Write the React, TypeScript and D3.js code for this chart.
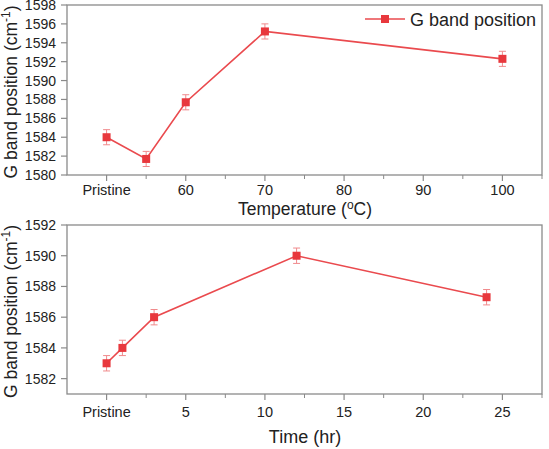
import React from "react";
import * as d3 from "d3";

const tempX = [50, 55, 60, 70, 100];
const tempY = [1584.0, 1581.7, 1587.7, 1595.2, 1592.3];
const tempErr = [0.8, 0.8, 0.8, 0.8, 0.8];
const tempTicks = [50, 60, 70, 80, 90, 100];
const tempMinor = [55, 65, 75, 85, 95, 105];
const tempYTicks = [1580, 1582, 1584, 1586, 1588, 1590, 1592, 1594, 1596, 1598];

const timeX = [0, 1, 3, 12, 24];
const timeY = [1583.0, 1584.0, 1586.0, 1590.0, 1587.3];
const timeErr = [0.5, 0.5, 0.5, 0.5, 0.5];
const timeTicks = [0, 5, 10, 15, 20, 25];
const timeMinor = [2.5, 7.5, 12.5, 17.5, 22.5, 27.5];
const timeYTicks = [1582, 1584, 1586, 1588, 1590, 1592];

const RED = "#e8383d";
const LINE = "#ea4a4e";
const AX = "#8a8a8a";
const FONT = "Liberation Sans, Arial, sans-serif";

type PanelProps = {
  top: number;
  bottom: number;
  xDomain: [number, number];
  yDomain: [number, number];
  xs: number[];
  ys: number[];
  errs: number[];
  xTicks: number[];
  xMinor: number[];
  yTicks: number[];
  firstLabel: string;
  xTitle: React.ReactNode;
  xTitleY: number;
  xTitleSize: number;
  tickLabelY: number;
  legend?: boolean;
};

const LEFT = 67;
const RIGHT = 542;

function Panel(p: PanelProps) {
  const x = d3.scaleLinear().domain(p.xDomain).range([LEFT, RIGHT]);
  const y = d3.scaleLinear().domain(p.yDomain).range([p.bottom, p.top]);
  const line = d3
    .line<number>()
    .x((_, i) => x(p.xs[i]))
    .y((d) => y(d));
  const midY = (p.top + p.bottom) / 2 + 2;
  return (
    <g>
      <rect
        x={LEFT}
        y={p.top}
        width={RIGHT - LEFT}
        height={p.bottom - p.top}
        fill="none"
        stroke={AX}
        strokeWidth={1.3}
      />
      {p.yTicks.map((t) => (
        <g key={"y" + t}>
          <line x1={LEFT - 6} x2={LEFT} y1={y(t)} y2={y(t)} stroke={AX} strokeWidth={1.2} />
          <text
            x={LEFT - 11}
            y={y(t)}
            dy="0.36em"
            textAnchor="end"
            fontSize={14}
            fill="#222"
            fontFamily={FONT}
          >
            {t}
          </text>
        </g>
      ))}
      {p.xTicks.map((t, i) => (
        <g key={"x" + t}>
          <line x1={x(t)} x2={x(t)} y1={p.bottom} y2={p.bottom + 6} stroke={AX} strokeWidth={1.2} />
          <text
            x={x(t)}
            y={p.tickLabelY}
            textAnchor="middle"
            fontSize={14.5}
            fill="#222"
            fontFamily={FONT}
          >
            {i === 0 ? p.firstLabel : t}
          </text>
        </g>
      ))}
      {p.xMinor.map((t) => (
        <line
          key={"m" + t}
          x1={x(t)}
          x2={x(t)}
          y1={p.bottom}
          y2={p.bottom + 4}
          stroke={AX}
          strokeWidth={1}
        />
      ))}
      <text
        transform={`translate(17,${midY}) rotate(-90)`}
        textAnchor="middle"
        fontSize={17.5}
        fill="#222"
        fontFamily={FONT}
      >
        G band position (cm
        <tspan fontSize={12} dy={-7}>
          -1
        </tspan>
        <tspan dy={7}>)</tspan>
      </text>
      <text
        x={305}
        y={p.xTitleY}
        textAnchor="middle"
        fontSize={p.xTitleSize}
        fill="#222"
        fontFamily={FONT}
      >
        {p.xTitle}
      </text>
      <path d={line(p.ys) || ""} fill="none" stroke={LINE} strokeWidth={1.6} />
      {p.ys.map((v, i) => {
        const cx = x(p.xs[i]);
        const e = p.errs[i];
        return (
          <g key={"p" + i}>
            <line x1={cx} x2={cx} y1={y(v - e)} y2={y(v + e)} stroke="#f08a8c" strokeWidth={1} />
            <line x1={cx - 3.5} x2={cx + 3.5} y1={y(v - e)} y2={y(v - e)} stroke="#f08a8c" strokeWidth={1} />
            <line x1={cx - 3.5} x2={cx + 3.5} y1={y(v + e)} y2={y(v + e)} stroke="#f08a8c" strokeWidth={1} />
            <rect x={cx - 4} y={y(v) - 4} width={8} height={8} fill={RED} />
          </g>
        );
      })}
      {p.legend && (
        <g>
          <line x1={365} x2={405} y1={19} y2={19} stroke={LINE} strokeWidth={1.6} />
          <rect x={381} y={15} width={8} height={8} fill={RED} />
          <text x={410} y={25.5} fontSize={18} fill="#222" fontFamily={FONT}>
            G band position
          </text>
        </g>
      )}
    </g>
  );
}

export default function App() {
  return (
    <svg
      width={549}
      height={449}
      style={{ position: "absolute", left: 0, top: 0, background: "#fff" }}
    >
      <rect width={549} height={449} fill="#fff" />
      <Panel
        top={5}
        bottom={175}
        xDomain={[45, 105]}
        yDomain={[1580, 1598]}
        xs={tempX}
        ys={tempY}
        errs={tempErr}
        xTicks={tempTicks}
        xMinor={tempMinor}
        yTicks={tempYTicks}
        firstLabel="Pristine"
        tickLabelY={195}
        xTitleY={215}
        xTitleSize={17.5}
        xTitle={
          <>
            Temperature (
            <tspan fontSize={12} dy={-6}>
              o
            </tspan>
            <tspan dy={6}>C)</tspan>
          </>
        }
        legend
      />
      <Panel
        top={225}
        bottom={394}
        xDomain={[-2.5, 27.5]}
        yDomain={[1581, 1592]}
        xs={timeX}
        ys={timeY}
        errs={timeErr}
        xTicks={timeTicks}
        xMinor={timeMinor}
        yTicks={timeYTicks}
        firstLabel="Pristine"
        tickLabelY={417}
        xTitleY={443}
        xTitleSize={18}
        xTitle="Time (hr)"
      />
    </svg>
  );
}
